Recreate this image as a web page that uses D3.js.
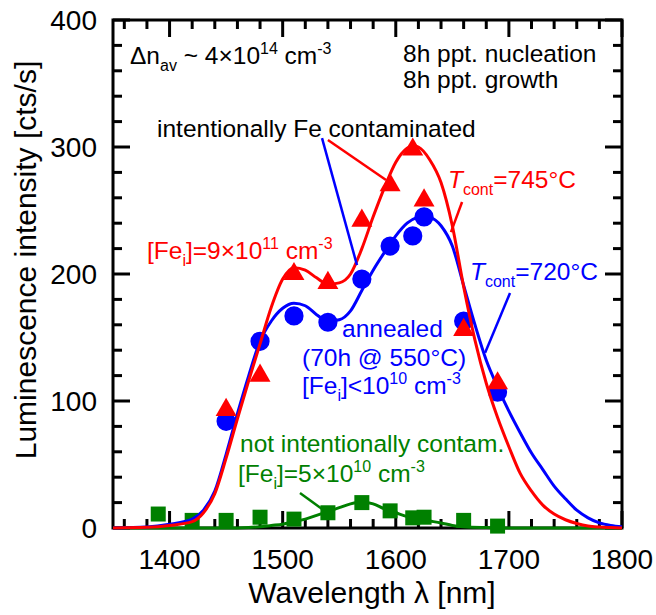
<!DOCTYPE html>
<html><head><meta charset="utf-8">
<script src="https://cdn.jsdelivr.net/npm/d3@7"></script>
<style>
html,body{margin:0;padding:0;background:#fff;}
svg text{font-family:"Liberation Sans",Arial,sans-serif;}
</style></head>
<body><svg id="c" width="656" height="615"></svg>
<script>
// ---- data ----
const redWl  = [1450,1480,1510,1540,1570,1595,1615,1625,1660,1690];
const redVal = [93,120,200,193,242,270,298,258,156,114];
const blueWl  = [1450,1480,1510,1540,1570,1595,1615,1625,1660,1690];
const blueVal = [84,147,167,162,196,222,230,245,163,107];
const greenWl  = [1390,1420,1450,1480,1510,1540,1570,1595,1615,1625,1660,1690];
const greenVal = [11,6,6,8.5,7,12,20,13.5,8,8.5,6,1.5];

const redFitWl  = [1350,1380,1400,1420,1430,1440,1450,1460,1470,1480,1490,1500,1510,1520,1530,1540,1550,1560,1570,1580,1590,1600,1610,1615,1620,1630,1640,1650,1660,1670,1680,1690,1700,1710,1720,1730,1740,1750,1760,1770,1780,1790,1800];
const redFitVal = [0,0.5,2,5,12,27,55,86,116,145,174,196,205,203,197,192,193,200,220,245,268,288,299,301,300,290,272,238,190,148,114,87,64,43,29,18,11,6.5,3.5,1.5,0.7,0.3,0];
const blueFitWl  = [1350,1380,1400,1420,1430,1440,1450,1460,1470,1480,1490,1500,1510,1520,1530,1540,1550,1560,1570,1580,1590,1600,1610,1620,1625,1630,1640,1650,1660,1670,1680,1690,1700,1710,1720,1730,1740,1750,1760,1770,1780,1790,1800];
const blueFitVal = [0,0.8,3,7,14,29,58,90,120,147,163,173,177,175,168,163,164,171,187,203,217,230,240,245,246,245,238,222,191,160,132,111,92,75,59,46,33,23,14,8,4,2,1];
const greenFitWl  = [1350,1400,1460,1470,1480,1490,1500,1510,1520,1530,1540,1550,1560,1570,1580,1590,1600,1610,1620,1630,1640,1650,1660,1680,1700,1800];
const greenFitVal = [0,0,0,0.3,1,2,3,5,7,10,13,16,19,20.5,19,15,12,9,7,5.5,4,2,1,0.3,0,0];

const xTicksMajor = [1400,1500,1600,1700,1800];
const yTicksMajor = [0,100,200,300,400];

// ---- layout ----
const L=113,R=622,T=20,B=528;
const x=d3.scaleLinear().domain([1350,1800]).range([L,R]);
const y=d3.scaleLinear().domain([0,400]).range([B,T]);
const svg=d3.select("#c");
const RED="#ff0000",BLUE="#0000ff",GREEN="#008000";

// ticks (inward, mirrored)
const xMinor=d3.range(1360,1800,20).filter(v=>v%100!==0);
const yMinor=d3.range(20,400,20).filter(v=>v%100!==0);
const tk=svg.append("g").attr("stroke","#000").attr("stroke-width",3);
function xt(v,len){ tk.append("line").attr("x1",x(v)).attr("x2",x(v)).attr("y1",B).attr("y2",B-len);
  tk.append("line").attr("x1",x(v)).attr("x2",x(v)).attr("y1",T).attr("y2",T+len);}
function yt(v,len){ tk.append("line").attr("y1",y(v)).attr("y2",y(v)).attr("x1",L).attr("x2",L+len);
  tk.append("line").attr("y1",y(v)).attr("y2",y(v)).attr("x1",R).attr("x2",R-len);}
xMinor.forEach(v=>xt(v,9)); xTicksMajor.forEach(v=>xt(v,17));
yMinor.forEach(v=>yt(v,9)); yTicksMajor.forEach(v=>yt(v,17));
svg.append("rect").attr("x",L).attr("y",T).attr("width",R-L).attr("height",B-T)
  .attr("fill","none").attr("stroke","#000").attr("stroke-width",3);

// tick labels
svg.append("g").selectAll("text").data(xTicksMajor).join("text")
  .attr("x",d=>x(d)).attr("y",569).attr("text-anchor","middle").attr("font-size",28).text(d=>d);
svg.append("g").selectAll("text").data(yTicksMajor).join("text")
  .attr("x",97).attr("y",d=>y(d)+10).attr("text-anchor","end").attr("font-size",28).text(d=>d);

// axis titles
svg.append("text").attr("x",372).attr("y",603).attr("text-anchor","middle").attr("font-size",30)
  .text("Wavelength \u03bb [nm]");
svg.append("text").attr("transform","translate(36,260) rotate(-90)").attr("text-anchor","middle")
  .attr("font-size",30).text("Luminescence intensity [cts/s]");

// curves
const line=d3.line().x(d=>x(d[0])).y(d=>y(d[1])).curve(d3.curveMonotoneX);
function curve(wl,val,col){ svg.append("path").datum(wl.map((w,i)=>[w,val[i]])).attr("d",line)
  .attr("fill","none").attr("stroke",col).attr("stroke-width",3); }
function marks(wl,val,col,type,size){ svg.append("g").selectAll("path").data(wl.map((w,i)=>[w,val[i]])).join("path")
  .attr("transform",d=>`translate(${x(d[0])},${y(d[1])})`).attr("d",d3.symbol().type(type).size(size)).attr("fill",col); }

curve(greenFitWl,greenFitVal,GREEN);
marks(greenWl,greenVal,GREEN,d3.symbolSquare,225);
curve(blueFitWl,blueFitVal,BLUE);
marks(blueWl,blueVal,BLUE,d3.symbolCircle,290);
curve(redFitWl,redFitVal,RED);
marks(redWl,redVal,RED,d3.symbolTriangle,190);

// leader lines (data coords)
const leaders=[
  [[1534.8,307],[1565.7,207],BLUE],
  [[1540,305.5],[1591.4,274],RED],
  [[1658.6,256.7],[1648.8,233],RED],
  [[1701,185],[1679,138],BLUE],
  [[1515.3,27.6],[1534.8,15],GREEN]];
leaders.forEach(l=>svg.append("line").attr("x1",x(l[0][0])).attr("y1",y(l[0][1]))
  .attr("x2",x(l[1][0])).attr("y2",y(l[1][1])).attr("stroke",l[2]).attr("stroke-width",2.5));

// rich text helper: parts [text, mode] mode: n, sub, sup, it
function rich(px,py,col,parts,fs=24.5){
  const t=svg.append("text").attr("x",px).attr("y",py).attr("fill",col).attr("font-size",fs);
  let cur=0;
  parts.forEach(p=>{
    const [s,m]=p; const ts=t.append("tspan").text(s);
    let off=0;
    if(m==="sub"){off=7;ts.attr("font-size",16);}
    else if(m==="sup"){off=-10;ts.attr("font-size",16);}
    else if(m==="it"){ts.attr("font-style","italic");}
    ts.attr("dy",off-cur); cur=off;
  });
  return t;
}
rich(130,64,"#000",[["\u0394n"],["av","sub"],[" ~ 4\u00d710"],["14","sup"],[" cm"],["-3","sup"]]);
rich(403,62,"#000",[["8h ppt. nucleation"]]);
rich(403,88,"#000",[["8h ppt. growth"]]);
rich(157,137,"#000",[["intentionally Fe contaminated"]]);
rich(147,259,RED,[["[Fe"],["i","sub"],["]=9\u00d710"],["11","sup"],[" cm"],["-3","sup"]]);
rich(448,188,RED,[["T","it"],["cont","sub"],["=745\u00b0C"]]);
rich(470,280,BLUE,[["T","it"],["cont","sub"],["=720\u00b0C"]]);
rich(342,337,BLUE,[["annealed"]]);
rich(302,366,BLUE,[["(70h @ 550\u00b0C)"]]);
rich(302,394,BLUE,[["[Fe"],["i","sub"],["]<10"],["10","sup"],[" cm"],["-3","sup"]]);
rich(240,452,GREEN,[["not intentionally contam."]]);
rich(238,482,GREEN,[["[Fe"],["i","sub"],["]=5\u00d710"],["10","sup"],[" cm"],["-3","sup"]]);
</script></body></html>
